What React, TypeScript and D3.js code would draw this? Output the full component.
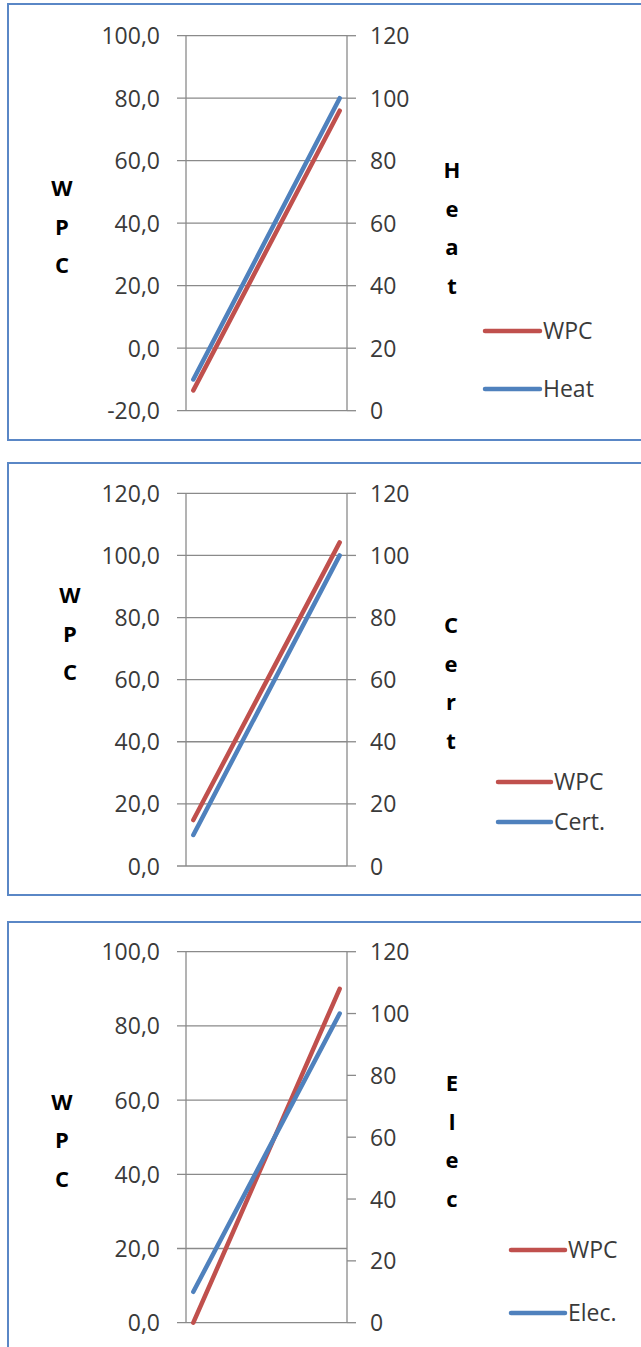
import React from "react";
import * as d3 from "d3";

const categories = ["1", "2"];

const wpcHeat = [-13.5, 76];
const heat = [10, 100];
const wpcCert = [14.8, 104.2];
const cert = [10, 100];
const wpcElec = [0, 90];
const elec = [10, 100];

const leftTicks1 = [-20, 0, 20, 40, 60, 80, 100];
const leftTicks2 = [0, 20, 40, 60, 80, 100, 120];
const leftTicks3 = [0, 20, 40, 60, 80, 100];
const rightTicks = [0, 20, 40, 60, 80, 100, 120];

const rightTitles = ["Heat", "Cert", "Elec"];
const legendNames = [["WPC", "Heat"], ["WPC", "Cert."], ["WPC", "Elec."]];

const RED = "#C0504D";
const BLUE = "#4F81BD";
const GRID = "#8a8a8a";
const TEXT = "#3a3a3a";
const FONT = "'Open Sans', 'Liberation Sans', sans-serif";

const fmt = d3.formatLocale({ decimal: ",", thousands: ".", grouping: [3], currency: ["", ""], minus: "-" }).format(".1f");

type PanelCfg = {
  border: [number, number, number, number];
  plotTop: number;
  plotBottom: number;
  left: number[];
  right: number[];
  leftTicks: number[];
  rightTitle: string;
  legend: string[];
  leftTitleX: number;
  leftTitleY: number;
  rightTitleX: number;
  rightTitleY: number;
  legX1: number;
  legX2: number;
  legY: [number, number];
};

const panels: PanelCfg[] = [
  {
    border: [8, 4, 700, 436],
    plotTop: 35.7,
    plotBottom: 410.7,
    left: wpcHeat,
    right: heat,
    leftTicks: leftTicks1,
    rightTitle: rightTitles[0],
    legend: legendNames[0],
    leftTitleX: 62,
    leftTitleY: 196,
    rightTitleX: 452,
    rightTitleY: 178,
    legX1: 485,
    legX2: 540,
    legY: [331, 389],
  },
  {
    border: [8, 463, 700, 432],
    plotTop: 493.3,
    plotBottom: 866,
    left: wpcCert,
    right: cert,
    leftTicks: leftTicks2,
    rightTitle: rightTitles[1],
    legend: legendNames[1],
    leftTitleX: 70,
    leftTitleY: 603,
    rightTitleX: 451,
    rightTitleY: 633,
    legX1: 498,
    legX2: 551,
    legY: [782, 822],
  },
  {
    border: [8, 922, 700, 500],
    plotTop: 951.7,
    plotBottom: 1322.7,
    left: wpcElec,
    right: elec,
    leftTicks: leftTicks3,
    rightTitle: rightTitles[2],
    legend: legendNames[2],
    leftTitleX: 62,
    leftTitleY: 1109.5,
    rightTitleX: 452,
    rightTitleY: 1091,
    legX1: 511,
    legX2: 565,
    legY: [1250, 1313],
  },
];

const AX_L = 186;
const AX_R = 347;
const TICK = 9;

function Panel({ p }: { p: PanelCfg }) {
  const lt = p.leftTicks;
  const yL = d3.scaleLinear().domain([lt[0], lt[lt.length - 1]]).range([p.plotBottom, p.plotTop]);
  const yR = d3.scaleLinear().domain([rightTicks[0], rightTicks[rightTicks.length - 1]]).range([p.plotBottom, p.plotTop]);
  const x = d3.scalePoint<string>().domain(categories).range([AX_L, AX_R]).padding(0.05);
  const lineL = d3.line<number>().x((_, i) => x(categories[i])!).y((d) => yL(d));
  const lineR = d3.line<number>().x((_, i) => x(categories[i])!).y((d) => yR(d));
  const [bx, by, bw, bh] = p.border;
  const leftLetters = "WPC".split("");
  const rightLetters = p.rightTitle.split("");
  const colors = [RED, BLUE];
  return (
    <g>
      <rect x={bx} y={by} width={bw} height={bh} fill="#fff" stroke="#5a87c6" strokeWidth={2} />
      {lt.map((t) => (
        <g key={"l" + t}>
          <line x1={AX_L - TICK} x2={AX_R} y1={yL(t)} y2={yL(t)} stroke={GRID} strokeWidth={1.3} />
          <text x={160} y={yL(t) + 8.5} textAnchor="end" fontSize={23} fill={TEXT} fontFamily={FONT}>
            {fmt(t)}
          </text>
        </g>
      ))}
      {rightTicks.map((t) => (
        <g key={"r" + t}>
          <line x1={AX_R} x2={AX_R + TICK} y1={yR(t)} y2={yR(t)} stroke={GRID} strokeWidth={1.3} />
          <text x={370} y={yR(t) + 8.5} textAnchor="start" fontSize={23} fill={TEXT} fontFamily={FONT}>
            {t}
          </text>
        </g>
      ))}
      <line x1={AX_L} x2={AX_L} y1={p.plotTop} y2={p.plotBottom} stroke={GRID} strokeWidth={1.3} />
      <line x1={AX_R} x2={AX_R} y1={p.plotTop} y2={p.plotBottom} stroke={GRID} strokeWidth={1.3} />
      <path d={lineL(p.left)!} fill="none" stroke={RED} strokeWidth={4.5} strokeLinecap="round" />
      <path d={lineR(p.right)!} fill="none" stroke={BLUE} strokeWidth={4.5} strokeLinecap="round" />
      {leftLetters.map((c, i) => (
        <text key={"lt" + i} x={p.leftTitleX} y={p.leftTitleY + i * 38.5} textAnchor="middle" fontSize={22} fontWeight="bold" fill="#000" fontFamily={FONT}>
          {c}
        </text>
      ))}
      {rightLetters.map((c, i) => (
        <text key={"rt" + i} x={p.rightTitleX} y={p.rightTitleY + i * 38.5} textAnchor="middle" fontSize={22} fontWeight="bold" fill="#000" fontFamily={FONT}>
          {c}
        </text>
      ))}
      {p.legend.map((name, i) => (
        <g key={"lg" + i}>
          <line x1={p.legX1} x2={p.legX2} y1={p.legY[i]} y2={p.legY[i]} stroke={colors[i]} strokeWidth={4.5} strokeLinecap="round" />
          <text x={p.legX2 + 3} y={p.legY[i] + 8} fontSize={23} fill={TEXT} fontFamily={FONT}>
            {name}
          </text>
        </g>
      ))}
    </g>
  );
}

export default function App() {
  return (
    <div style={{ position: "absolute", left: 0, top: 0 }}>
      <svg width={641} height={1347} style={{ display: "block", background: "#fff" }}>
        {panels.map((p, i) => (
          <Panel key={i} p={p} />
        ))}
      </svg>
    </div>
  );
}
